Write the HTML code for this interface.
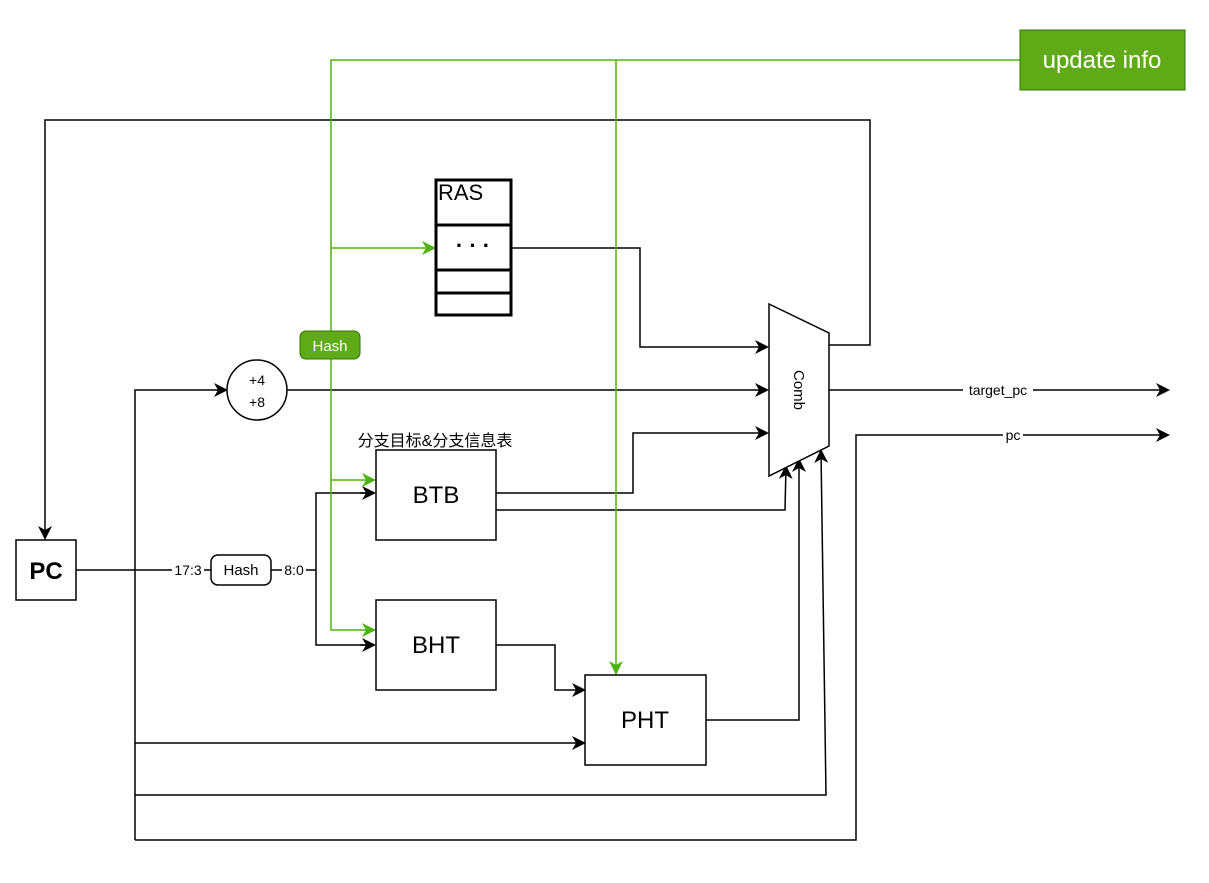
<!DOCTYPE html>
<html><head><meta charset="utf-8"><style>
html,body{margin:0;padding:0;background:#fff;}
svg{display:block;}
text{font-family:"Liberation Sans","Noto Sans CJK SC",sans-serif;}
</style></head><body>
<svg width="1209" height="883" viewBox="0 0 1209 883" xmlns="http://www.w3.org/2000/svg">
<defs>
<marker id="ab" markerWidth="14" markerHeight="14" refX="12" refY="7" orient="auto" markerUnits="userSpaceOnUse">
<path d="M0,0 L14,7 L0,14 L4,7 Z" fill="#000"/></marker>
<marker id="ag" markerWidth="14" markerHeight="14" refX="12" refY="7" orient="auto" markerUnits="userSpaceOnUse">
<path d="M0,0 L14,7 L0,14 L4,7 Z" fill="#4db30f"/></marker>
</defs>
<rect width="1209" height="883" fill="#fff"/>
<g fill="none" stroke="#000" stroke-width="1.5">
<polyline points="829,345 870,345 870,120 45,120 45,538" marker-end="url(#ab)"/>
<polyline points="511,248 640,248 640,347 767,347" marker-end="url(#ab)"/>
<polyline points="135,840 135,390 226,390" marker-end="url(#ab)"/>
<line x1="287" y1="390" x2="767" y2="390" marker-end="url(#ab)"/>
<line x1="76" y1="570" x2="172" y2="570"/>
<line x1="204" y1="570" x2="211" y2="570"/>
<line x1="271" y1="570" x2="282" y2="570"/>
<line x1="306" y1="570" x2="316" y2="570"/>
<polyline points="374,493 316,493 316,645 374,645"/>
<line x1="360" y1="493" x2="374" y2="493" marker-end="url(#ab)"/>
<line x1="360" y1="645" x2="374" y2="645" marker-end="url(#ab)"/>
<polyline points="496,493 633,493 633,433 767,433" marker-end="url(#ab)"/>
<polyline points="496,510 785,510 786,467" marker-end="url(#ab)"/>
<polyline points="496,645 555,645 555,690 584,690" marker-end="url(#ab)"/>
<line x1="135" y1="743" x2="584" y2="743" marker-end="url(#ab)"/>
<polyline points="706,720 799,720 799,460" marker-end="url(#ab)"/>
<polyline points="135,795 826,795 821,451" marker-end="url(#ab)"/>
<polyline points="135,840 856,840 856,435 1168,435" marker-end="url(#ab)"/>
<line x1="829" y1="390" x2="1168" y2="390" marker-end="url(#ab)"/>
</g>
<g fill="none" stroke="#4db30f" stroke-width="1.5">
<polyline points="1020,60 331,60 331,630 374,630" marker-end="url(#ag)"/>
<line x1="616" y1="60" x2="616" y2="673" marker-end="url(#ag)"/>
<line x1="331" y1="248" x2="434" y2="248" marker-end="url(#ag)"/>
<line x1="331" y1="480" x2="374" y2="480" marker-end="url(#ag)"/>
</g>
<rect x="1020" y="30" width="165" height="60" fill="#60a917" stroke="#2d7600" stroke-width="1"/>
<text x="1102" y="68" font-size="24" fill="#fff" text-anchor="middle">update info</text>
<rect x="300" y="331" width="60" height="28" rx="6" fill="#60a917" stroke="#2d7600" stroke-width="1"/>
<text x="330" y="351" font-size="15" fill="#fff" text-anchor="middle">Hash</text>
<g fill="#fff" stroke="#000" stroke-width="3">
<rect x="436" y="180" width="75" height="135"/>
<line x1="436" y1="225" x2="511" y2="225"/>
<line x1="436" y1="270" x2="511" y2="270"/>
<line x1="436" y1="293" x2="511" y2="293"/>
</g>
<text x="438" y="200" font-size="22">RAS</text>
<text x="473" y="253" font-size="22" text-anchor="middle" font-weight="bold">· · ·</text>
<circle cx="257" cy="390" r="30" fill="#fff" stroke="#000" stroke-width="1.5"/>
<text x="257" y="385" font-size="14" text-anchor="middle">+4</text>
<text x="257" y="407" font-size="14" text-anchor="middle">+8</text>
<polygon points="769,304 829,333 829,446 769,476" fill="#fff" stroke="#000" stroke-width="1.5"/>
<text x="0" y="0" font-size="15" text-anchor="middle" transform="translate(794,390) rotate(90)">Comb</text>
<rect x="963" y="382" width="70" height="16" fill="#fff"/>
<text x="998" y="395" font-size="14" text-anchor="middle">target_pc</text>
<rect x="1003" y="428" width="20" height="14" fill="#fff"/>
<text x="1013" y="440" font-size="14" text-anchor="middle">pc</text>
<rect x="16" y="540" width="60" height="60" fill="#fff" stroke="#000" stroke-width="1.5"/>
<text x="46" y="579" font-size="24" font-weight="bold" text-anchor="middle">PC</text>
<text x="188" y="575" font-size="14" text-anchor="middle">17:3</text>
<rect x="211" y="555" width="60" height="30" rx="7" fill="#fff" stroke="#000" stroke-width="1.5"/>
<text x="241" y="575" font-size="15" text-anchor="middle">Hash</text>
<text x="294" y="575" font-size="14" text-anchor="middle">8:0</text>
<text x="435" y="446" font-size="16" text-anchor="middle">分支目标&amp;分支信息表</text>
<rect x="376" y="450" width="120" height="90" fill="#fff" stroke="#000" stroke-width="1.5"/>
<text x="436" y="503" font-size="24" text-anchor="middle">BTB</text>
<rect x="376" y="600" width="120" height="90" fill="#fff" stroke="#000" stroke-width="1.5"/>
<text x="436" y="653" font-size="24" text-anchor="middle">BHT</text>
<rect x="585" y="675" width="121" height="90" fill="#fff" stroke="#000" stroke-width="1.5"/>
<text x="645" y="728" font-size="24" text-anchor="middle">PHT</text>
</svg>
</body></html>
